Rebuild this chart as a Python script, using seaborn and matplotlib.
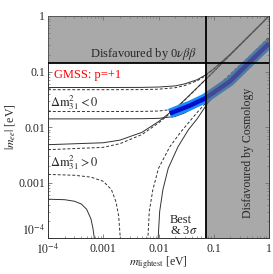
import numpy as np
import pandas as pd
import matplotlib
matplotlib.use('Agg')
import matplotlib.pyplot as plt
import seaborn as sns

# bounds
mee_bound = 0.14     # 0vbb
m_cosmo = 0.071      # cosmology

# inverted hierarchy (Dm31 < 0)
ih_m0 = [1e-4, 1e-3, 0.005, 0.01, 0.02, 0.03, 0.05, 0.07, 0.1, 0.2, 0.5, 1.0]
ih_max_best = [0.0515, 0.0515, 0.0517, 0.0525, 0.055, 0.06, 0.071, 0.086, 0.112, 0.206, 0.503, 1.0]
ih_max_3s = [0.047, 0.047, 0.0472, 0.048, 0.051, 0.056, 0.068, 0.083, 0.11, 0.205, 0.502, 1.0]
ih_min_best = [0.014, 0.014, 0.0141, 0.0143, 0.0155, 0.018, 0.024, 0.031, 0.042, 0.08, 0.19, 0.38]
ih_min_3s = [0.019, 0.019, 0.0191, 0.0194, 0.021, 0.023, 0.029, 0.036, 0.048, 0.09, 0.21, 0.42]

# normal hierarchy (Dm31 > 0)
nh_m0 = [1e-4, 1e-3, 0.002, 0.005, 0.01, 0.02, 0.03, 0.05, 0.1, 0.2, 0.5, 1.0]
nh_max_best = [0.0048, 0.0052, 0.0058, 0.008, 0.0125, 0.0215, 0.031, 0.051, 0.1, 0.2, 0.5, 1.0]
nh_max_3s = [0.0039, 0.0043, 0.005, 0.0073, 0.0118, 0.021, 0.0305, 0.0505, 0.1, 0.2, 0.5, 1.0]

nh_min_best_a_m0 = [1e-4, 2e-4, 3e-4, 4e-4, 5e-4, 6e-4, 6.5e-4, 7e-4]
nh_min_best_a = [5e-4, 4.9e-4, 4.6e-4, 4.1e-4, 3.3e-4, 2.2e-4, 1.5e-4, 9e-5]
nh_min_3s_a_m0 = [1e-4, 3e-4, 6e-4, 1e-3, 1.4e-3, 1.7e-3, 1.9e-3, 2.05e-3]
nh_min_3s_a = [1.4e-3, 1.35e-3, 1.25e-3, 1.05e-3, 7.5e-4, 4.5e-4, 2.5e-4, 9e-5]

nh_min_best_b_m0 = [0.0098, 0.0105, 0.012, 0.015, 0.0225, 0.035, 0.05, 0.079, 0.1, 0.2, 0.5, 1.0]
nh_min_best_b = [9e-5, 3e-4, 7.4e-4, 1.8e-3, 4.4e-3, 9e-3, 0.014, 0.0276, 0.035, 0.07, 0.175, 0.35]
nh_min_3s_b_m0 = [0.0064, 0.0068, 0.0079, 0.01, 0.016, 0.025, 0.05, 0.1, 0.2, 0.5, 1.0]
nh_min_3s_b = [9e-5, 3e-4, 7.4e-4, 1.8e-3, 4.4e-3, 8e-3, 0.0183, 0.039, 0.08, 0.2, 0.4]

# GMSS p=+1 prediction
gmss_m0 = [0.016, 0.0245, 0.0372, 0.069, 0.195, 0.44, 1.0]
gmss_mee = [0.0175, 0.0207, 0.0244, 0.0326, 0.066, 0.146, 0.32]

ticks = [1e-4, 1e-3, 1e-2, 1e-1, 1]
x_ticklabels = ['$10^{-4}$', '0.001', '0.01', '0.1', '1']
y_ticklabels = ['$10^{-4}$', '0.001', '0.01', '0.1', '1']

sns.set_style('ticks')
plt.rcParams['font.family'] = ['Liberation Serif', 'DejaVu Serif']
plt.rcParams['mathtext.fontset'] = 'stix'

fig = plt.figure(figsize=(2.73, 2.74), dpi=100)
ax = fig.add_axes([48/273, 36/274, 221/273, 222/274])

lc = '0.2'
lw = 0.7
curves = [
    (ih_m0, ih_max_best, '-'), (ih_m0, ih_max_3s, '--'),
    (ih_m0, ih_min_best, '-'), (ih_m0, ih_min_3s, '--'),
    (nh_m0, nh_max_best, '-'), (nh_m0, nh_max_3s, '--'),
    (nh_min_best_a_m0, nh_min_best_a, '-'), (nh_min_3s_a_m0, nh_min_3s_a, '--'),
    (nh_min_best_b_m0, nh_min_best_b, '-'), (nh_min_3s_b_m0, nh_min_3s_b, '--'),
]
for xs, ys, ls in curves:
    sns.lineplot(x=xs, y=ys, ax=ax, color=lc, lw=lw, estimator=None, zorder=2)
    if ls == '--':
        ax.lines[-1].set_dashes((3, 2))

# GMSS band
sns.lineplot(x=gmss_m0, y=gmss_mee, ax=ax, color='#1a8cff', lw=7, estimator=None,
             solid_capstyle='butt', zorder=3)
sns.lineplot(x=gmss_m0, y=gmss_mee, ax=ax, color='#0010c8', lw=3.2, estimator=None,
             solid_capstyle='butt', zorder=3)

# disfavoured regions (one L-shaped patch)
ax.fill([1e-4, m_cosmo, m_cosmo, 1, 1, 1e-4],
        [mee_bound, mee_bound, 1e-4, 1e-4, 1, 1],
        color=(0.44, 0.44, 0.44), alpha=0.6, lw=0, zorder=4)
ax.axhline(mee_bound, color='k', lw=1.3, zorder=5)
ax.axvline(m_cosmo, color='k', lw=1.3, zorder=5)

ax.set_xscale('log')
ax.set_yscale('log')
ax.set_xlim(1e-4, 1)
ax.set_ylim(1e-4, 1)
ax.set_xticks(ticks)
ax.set_xticklabels(x_ticklabels)
ax.set_yticks(ticks)
ax.set_yticklabels(y_ticklabels)
ax.tick_params(which='both', direction='in', top=True, right=True, color='0.45',
               labelsize=8.5)
ax.tick_params(axis='x', pad=3.5)
ax.tick_params(axis='y', pad=2)
ax.tick_params(which='major', length=3, width=0.6)
ax.tick_params(which='minor', length=1.5, width=0.5)
for s in ax.spines.values():
    s.set_linewidth(0.7)
    s.set_color('0.2')
ax.get_yticklabels()[0].set_va('bottom')

ax.set_xlabel(r'$m_{\rm lightest}$ [eV]', fontsize=8.5)
ax.set_ylabel(r'$|m_{ee}|$ [eV]', fontsize=8.5, labelpad=1)
ax.xaxis.set_label_coords(0.5, -0.075)

ax.text(0.0054, 0.21, r'Disfavoured by 0$\nu\beta\beta$', fontsize=9, ha='center', va='center', zorder=6)
ax.text(0.41, 0.0034, 'Disfavoured by Cosmology', fontsize=8.5, rotation=90, ha='center', va='center', zorder=6)
ax.text(1.3e-4, 0.085, 'GMSS: p=+1', fontsize=9, color='red', ha='left', va='center', zorder=6)
ax.text(1.09e-4, 0.0276, r'$\Delta\mathrm{m}^2_{31} < 0$', fontsize=9, ha='left', va='center', zorder=6)
ax.text(1.09e-4, 0.00227, r'$\Delta\mathrm{m}^2_{31} > 0$', fontsize=9, ha='left', va='center', zorder=6)
ax.text(0.016, 1.7e-4, 'Best\n& 3$\\sigma$', fontsize=9, ha='left', va='center', linespacing=0.9, zorder=6)

fig.savefig('out.png', dpi=100)
